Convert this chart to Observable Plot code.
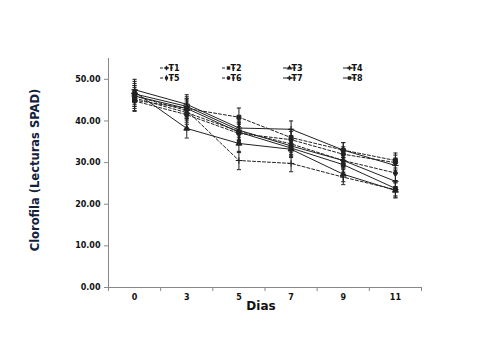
<!DOCTYPE html>
<html><head><meta charset="utf-8">
<script src="https://cdn.jsdelivr.net/npm/d3@7"></script>
<script src="https://cdn.jsdelivr.net/npm/@observablehq/plot@0.6"></script>
<style>
html,body{margin:0;padding:0;background:#fff;}
#chart{width:480px;height:360px;}
</style></head>
<body><div id="chart"></div>
<script>
const days = ["0","3","5","7","9","11"];
const series = ["T1","T2","T3","T4","T5","T6","T7","T8"];
const T1 = [46.0, 42.5, 30.5, 29.8, 26.5, 23.5];
const T2 = [45.0, 43.0, 40.9, 36.0, 33.0, 30.5];
const T3 = [47.0, 38.2, 34.6, 33.2, 27.2, 23.3];
const T4 = [47.5, 44.0, 38.3, 38.0, 33.0, 29.3];
const T5 = [45.5, 42.0, 37.5, 34.5, 30.5, 27.5];
const T6 = [44.8, 41.5, 37.0, 35.5, 32.0, 30.0];
const T7 = [46.5, 43.5, 37.8, 34.0, 30.5, 25.5];
const T8 = [46.0, 43.0, 37.3, 33.5, 29.5, 23.8];
const errs = [2.5, 2.3, 2.2, 2.0, 1.8, 1.8];
const dashed = {T1:true,T2:true,T3:false,T4:false,T5:true,T6:true,T7:false,T8:false};
const symbols = {T1:"plus",T2:"square",T3:"triangle",T4:"plus",T5:"diamond",T6:"circle",T7:"plus",T8:"square"};
const yTicks = [0,10,20,30,40,50];

const vals = {T1,T2,T3,T4,T5,T6,T7,T8};
const data = [];
for (const s of series) vals[s].forEach((v,i)=>data.push({s, i, day: days[i], v, e: errs[i]}));

const ink = "#222";
const FONT = "'DejaVu Sans', 'Liberation Sans', Arial, sans-serif";
const marks = [
  Plot.ruleX([-0.5], {stroke:"#888", y1:0, y2:55}),
  Plot.ruleY([0], {stroke:"#888", x1:-0.5, x2:5.5}),
  Plot.axisY({ticks: yTicks, tickFormat: d=>d.toFixed(2), tickSize:4, stroke:"#888", fontWeight:"bold", fontSize:8, fill:"#111", label:null, tickPadding:4}),
  Plot.axisX({ticks: d3.range(-0.5,6,1), tickFormat: ()=>"", tickSize:4, stroke:"#888", label:null}),
  Plot.axisX({ticks: d3.range(0,6), tickFormat: i=>days[i], tickSize:0, tickPadding:7, fontWeight:"bold", fontSize:8, fill:"#111", label:null}),
  Plot.ruleX(data, {x:"i", y1:d=>d.v-d.e, y2:d=>d.v+d.e, stroke:ink, strokeWidth:1}),
  Plot.link(data, {x1:d=>d.i-0.04, x2:d=>d.i+0.04, y1:d=>d.v+d.e, y2:d=>d.v+d.e, stroke:ink, strokeWidth:1}),
  Plot.link(data, {x1:d=>d.i-0.04, x2:d=>d.i+0.04, y1:d=>d.v-d.e, y2:d=>d.v-d.e, stroke:ink, strokeWidth:1}),
];
for (const s of series) {
  const d = data.filter(r=>r.s===s);
  marks.push(Plot.line(d, {x:"i", y:"v", stroke:ink, strokeWidth:1, strokeDasharray: dashed[s] ? "3,2" : null}));
  marks.push(Plot.dot(d, {x:"i", y:"v", r:2.2, symbol: ()=>symbols[s], fill: ink, stroke: ink, strokeWidth:1}));
}

const plot = Plot.plot({
  width:480, height:360,
  marginLeft:108, marginRight:59, marginTop:58, marginBottom:73,
  style:{fontFamily:FONT, background:"#fff"},
  x:{type:"linear", domain:[-0.5,5.5], axis:null},
  y:{domain:[0,55], axis:null},
  marks
});

const svg = d3.select(plot);
svg.append("text").attr("x",261).attr("y",310).attr("text-anchor","middle")
  .attr("font-family",FONT).attr("font-weight","bold").attr("font-size",12).attr("fill","#111").text("Dias");
svg.append("text").attr("transform","translate(39,170) rotate(-90)").attr("text-anchor","middle")
  .attr("font-family",FONT).attr("font-weight","bold").attr("font-size",11.5).attr("fill","#14213d").text("Clorofila (Lecturas SPAD)");
const lx = [160, 222, 283, 343];
const ly = [68, 78];
series.forEach((s,k)=>{
  const x = lx[k%4], y = ly[Math.floor(k/4)];
  const g = svg.append("g");
  g.append("line").attr("x1",x).attr("x2",x+13).attr("y1",y).attr("y2",y).attr("stroke",ink).attr("stroke-width",1)
    .attr("stroke-dasharray", dashed[s] ? "3,2" : null);
  const sym = d3.symbol().type({plus:d3.symbolCross,square:d3.symbolSquare,triangle:d3.symbolTriangle,diamond:d3.symbolDiamond,circle:d3.symbolCircle}[symbols[s]]).size(12);
  g.append("path").attr("d",sym()).attr("transform",`translate(${x+6.5},${y})`).attr("fill",ink);
  g.append("text").attr("x",x+14).attr("y",y+3).attr("font-family",FONT)
    .attr("font-weight","bold").attr("font-size",8).attr("fill","#111").text(s);
});
document.getElementById("chart").appendChild(plot);
</script></body></html>
